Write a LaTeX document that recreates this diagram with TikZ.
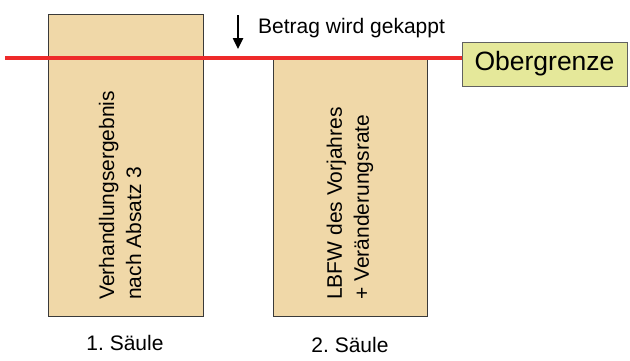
\documentclass[tikz,border=0pt]{standalone}
\usepackage{fontspec}
\setmainfont{Liberation Sans}
\usetikzlibrary{arrows.meta}
\frenchspacing
\definecolor{colfill}{HTML}{F0D8A8}
\definecolor{limitfill}{HTML}{E5E89A}
\definecolor{limitred}{HTML}{EE2A2A}
\definecolor{edge}{HTML}{3A3A3A}
\tikzset{
  column/.style={draw=edge, line width=1pt, fill=colfill},
  coltext/.style={rotate=90, anchor=west, align=left, inner sep=0pt, font=\fontsize{21}{27}\selectfont},
  label/.style={inner sep=0pt, font=\fontsize{21}{25}\selectfont},
  limitbox/.style={draw=edge!80, line width=1pt, fill=limitfill, minimum width=165pt, minimum height=44pt, inner sep=0pt, font=\fontsize{26.5}{30}\selectfont},
}
\begin{document}
\begin{tikzpicture}[x=1pt, y=-1pt]
\useasboundingbox (0,0) rectangle (630,360);
% columns
\draw[column] (48,14) rectangle (203,316);
\draw[column] (273,58) rectangle (427,316);
\node[coltext] (t1) at (120,300) {Verhandlungsergebnis\\nach Absatz 3};
\node[coltext] (t2) at (350,300) {LBFW des Vorjahres\\+ Veränderungsrate};
% limit
\node[limitbox] (limit) at (544.5,64) {Obergrenze};
\coordinate (redstart) at (5,58);
\draw[limitred, line width=3.5pt] (redstart) -- (redstart -| limit.west);
% arrow and text
\coordinate (atop) at (238,15);
\coordinate (atip) at (238,49);
\draw[line width=2.4pt, -{Triangle[length=11pt,width=10pt]}] (atop) -- (atip);
\node[label, anchor=base west] (cap) at (258,33) {Betrag wird gekappt};
% column labels
\node[label, anchor=base] (l1) at (125,350) {1.\ Säule};
\node[label, anchor=base] (l2) at (350,352) {2.\ Säule};
\end{tikzpicture}
\end{document}
